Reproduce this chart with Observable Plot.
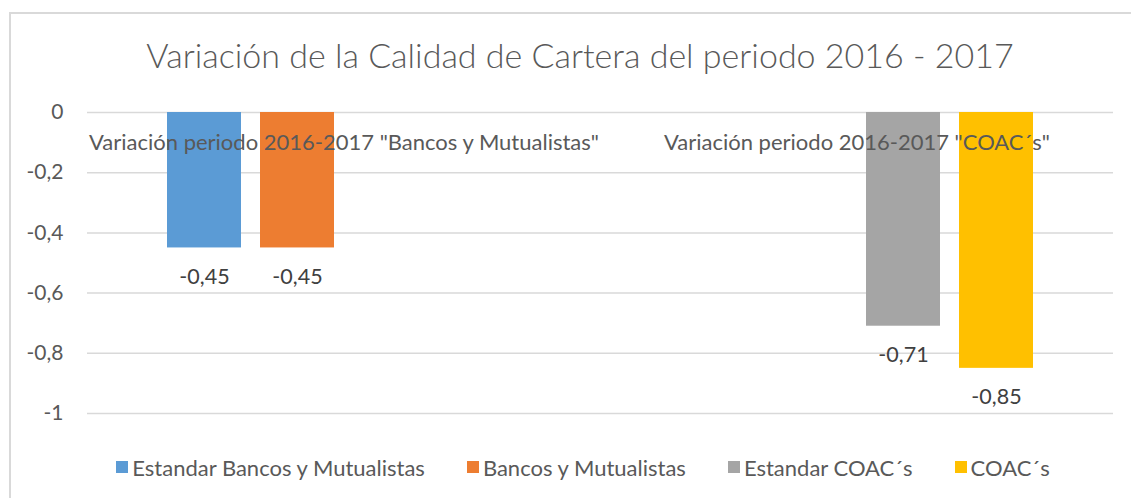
<!DOCTYPE html>
<html>
<head>
<meta charset="utf-8">
<script src="https://cdn.jsdelivr.net/npm/d3@7"></script>
<script src="https://cdn.jsdelivr.net/npm/@observablehq/plot@0.6"></script>
<style>
  html, body { margin: 0; padding: 0; background: #fff; }
  #wrap { position: relative; width: 1131px; height: 498px; overflow: hidden; font-family: Lato, "Open Sans", sans-serif; }
  #frame { position: absolute; left: 9px; top: 12px; width: 1200px; height: 600px; border-left: 2px solid #d9d9d9; border-top: 2px solid #d9d9d9; box-sizing: border-box; pointer-events: none; }
  #title { position: absolute; left: 0; top: 0; width: 1160px; height: 95px; text-align: center; color: #595959; font-size: 34px; font-weight: 300; line-height: 110px; white-space: nowrap; }
  #chart { position: absolute; left: 0; top: 95px; }
  #legend { position: absolute; left: 0; top: 440px; width: 1166px; height: 54px; display: flex; justify-content: center; align-items: center; gap: 42px; color: #595959; font-size: 22px; }
  .item { display: flex; align-items: center; white-space: nowrap; }
  .sw { width: 12px; height: 12px; margin-right: 4px; }
</style>
</head>
<body>
<div id="wrap">
  <div id="title">Variación de la Calidad de Cartera del periodo 2016 - 2017</div>
  <div id="chart"></div>
  <div id="legend"></div>
  <div id="frame"></div>
</div>
<script>
const categories = ['Variación periodo 2016-2017 "Bancos y Mutualistas"', 'Variación periodo 2016-2017 "COAC´s"'];
const series = ["Estandar Bancos y Mutualistas", "Bancos y Mutualistas", "Estandar COAC´s", "COAC´s"];
const estandarBancos = [-0.45, null];
const bancos = [-0.45, null];
const estandarCoac = [null, -0.71];
const coac = [null, -0.85];
const yTicks = [0, -0.2, -0.4, -0.6, -0.8, -1];
const colors = ["#5B9BD5", "#ED7D31", "#A5A5A5", "#FFC000"];

const seriesValues = [estandarBancos, bancos, estandarCoac, coac];
const rows = [];
series.forEach((s, i) => {
  categories.forEach((c, j) => {
    const v = seriesValues[i][j];
    if (v != null) rows.push({series: s, category: c, value: v});
  });
});
const fmt = v => String(v).replace(".", ",");

const chart = Plot.plot({
  width: 1131,
  height: 345,
  marginTop: 17,
  marginBottom: 27,
  marginLeft: 87,
  marginRight: 18,
  style: {fontFamily: "Lato, 'Open Sans', sans-serif", fontSize: "21px", color: "#595959", background: "transparent"},
  fx: {domain: categories, padding: 0, axis: null},
  x: {domain: series, paddingInner: 0.204, paddingOuter: 0.86, axis: null},
  y: {domain: [-1, 0], axis: null},
  color: {domain: series, range: colors},
  marks: [
    Plot.ruleY(yTicks, {stroke: "#d9d9d9", strokeWidth: 1.5}),
    Plot.axisY({ticks: yTicks, tickFormat: fmt, tickSize: 0, tickPadding: 24, label: null, fill: "#595959", fontSize: 21}),
    Plot.barY(rows, {fx: "category", x: "series", y1: 0, y2: "value", fill: "series"}),
    Plot.text(rows, {fx: "category", x: "series", y: "value", text: d => fmt(d.value), dy: 29, lineAnchor: "middle", fill: "#404040", fontSize: 21.5}),
    Plot.text(categories, {fx: d => d, text: d => d, frameAnchor: "top", lineAnchor: "middle", dy: 30, fill: "#595959", fontSize: 22})
  ]
});
document.getElementById("chart").appendChild(chart);

const legend = document.getElementById("legend");
series.forEach((s, i) => {
  const item = document.createElement("div");
  item.className = "item";
  const sw = document.createElement("span");
  sw.className = "sw";
  sw.style.background = colors[i];
  const t = document.createElement("span");
  t.textContent = s;
  item.appendChild(sw);
  item.appendChild(t);
  legend.appendChild(item);
});
</script>
</body>
</html>
